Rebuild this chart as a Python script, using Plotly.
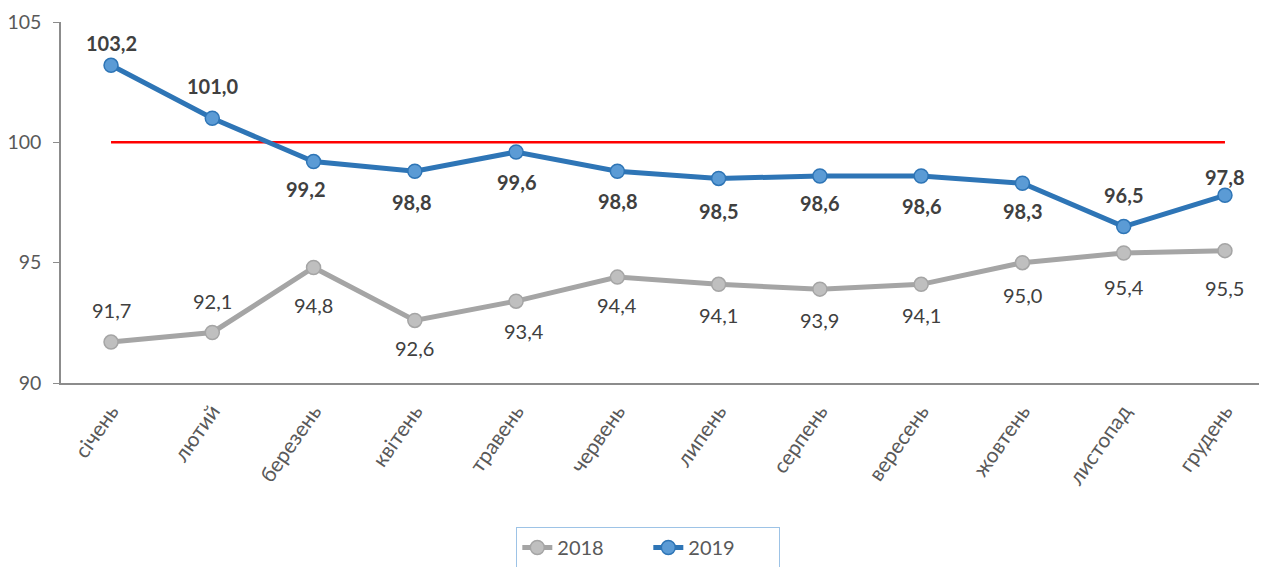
import plotly.graph_objects as go

months = ["січень", "лютий", "березень", "квітень", "травень", "червень",
          "липень", "серпень", "вересень", "жовтень", "листопад", "грудень"]
vals_2018 = [91.7, 92.1, 94.8, 92.6, 93.4, 94.4, 94.1, 93.9, 94.1, 95.0, 95.4, 95.5]
vals_2019 = [103.2, 101.0, 99.2, 98.8, 99.6, 98.8, 98.5, 98.6, 98.6, 98.3, 96.5, 97.8]
baseline = [100] * 12
y_ticks = [90, 95, 100, 105]

# label offsets in pixels (positive = below the point), horizontal nudges
lab_dy_2018 = [-32, -31, 38, 28, 30, 28, 31, 31, 31, 32, 34, 37]
lab_dx_2018 = [0, 0, 0, 0, 8, 0, 0, 0, 0, 0, 0, 0]
lab_dy_2019 = [-22, -32, 27, 31, 30, 30, 33, 27, 30, 28, -32, -18]
lab_dx_2019 = [0, 0, -8, -3, 0, 0, 0, 0, 0, 0, 0, 0]

def fmt(v):
    return f"{v:.1f}".replace(".", ",")

FONT = "Lato, Open Sans, sans-serif"
fig = go.Figure()
fig.add_trace(go.Scatter(
    x=months, y=baseline, mode="lines", showlegend=False, hoverinfo="skip",
    line=dict(color="#FF0000", width=2.5)))
fig.add_trace(go.Scatter(
    x=months, y=vals_2018, name="2018", mode="lines+markers",
    line=dict(color="#A5A5A5", width=5),
    marker=dict(size=14, color="#BFBFBF", line=dict(color="#A5A5A5", width=1.5))))
fig.add_trace(go.Scatter(
    x=months, y=vals_2019, name="2019", mode="lines+markers",
    line=dict(color="#2E75B6", width=5),
    marker=dict(size=14, color="#5B9BD5", line=dict(color="#2E75B6", width=1.5))))

for m, v, dy, dx in zip(months, vals_2018, lab_dy_2018, lab_dx_2018):
    fig.add_annotation(x=m, y=v, text=fmt(v), showarrow=False, yanchor="middle",
                       xanchor="center", yshift=-dy, xshift=dx,
                       font=dict(size=20, color="#404040", family=FONT))
for m, v, dy, dx in zip(months, vals_2019, lab_dy_2019, lab_dx_2019):
    fig.add_annotation(x=m, y=v, text="<b>" + fmt(v) + "</b>", showarrow=False,
                       yanchor="middle", xanchor="center", yshift=-dy, xshift=dx,
                       font=dict(size=20, color="#404040", family=FONT))

fig.update_layout(
    width=1259, height=559,
    margin=dict(l=53, r=0, t=14, b=184, autoexpand=False),
    plot_bgcolor="white", paper_bgcolor="white",
    font=dict(family=FONT, color="#595959", size=18),
    xaxis=dict(range=[-0.494, 11.415], showgrid=False, showline=True,
               linecolor="#8C8C8C", linewidth=1.5, tickangle=-55,
               tickfont=dict(size=21, color="#595959"), ticks="", zeroline=False,
               ticklabelstandoff=6),
    yaxis=dict(range=[90, 105], tickvals=y_ticks, showgrid=False, showline=True,
               linecolor="#8C8C8C", linewidth=1.5, ticks="outside", ticklen=6,
               tickcolor="#8C8C8C", tickfont=dict(size=19.5, color="#595959"),
               zeroline=False, ticklabelstandoff=8),
    legend=dict(orientation="h", x=0.487, xanchor="center", y=-0.399, yanchor="top",
                bordercolor="#9DC3E6", borderwidth=1, font=dict(size=20, color="#595959"),
                bgcolor="white", entrywidth=86, entrywidthmode="pixels"),
)
fig.write_html("out.html")
